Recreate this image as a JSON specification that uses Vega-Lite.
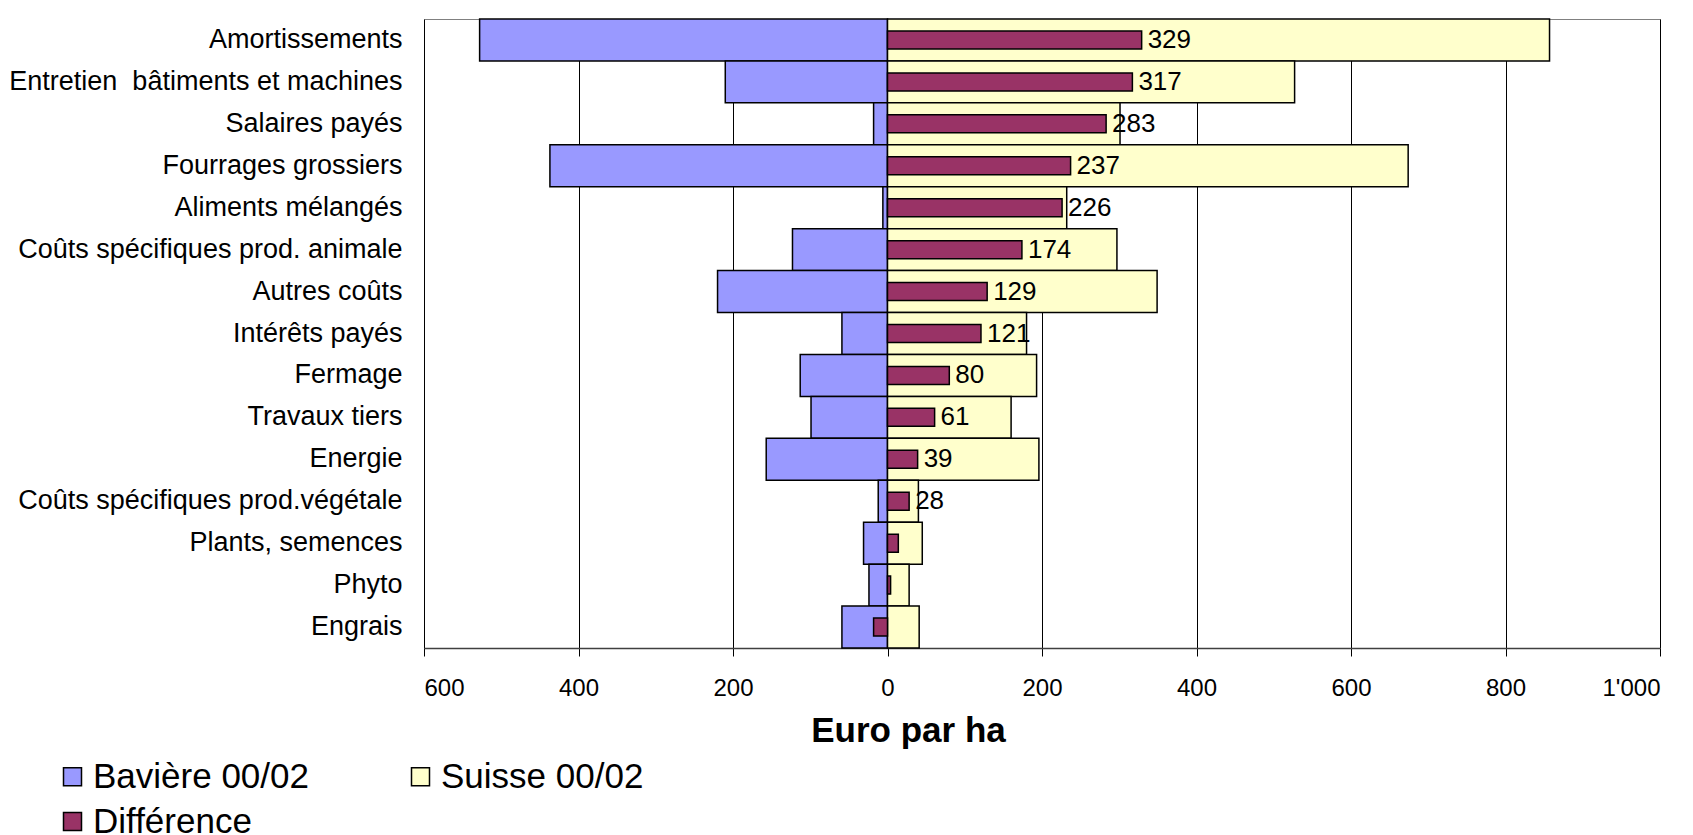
{
  "$schema": "https://vega.github.io/schema/vega-lite/v6.json",
  "autosize": "none",
  "width": 1236,
  "height": 629,
  "padding": {"left": 424, "top": 19, "right": 33, "bottom": 187},
  "background": "white",
  "config": {
    "font": "Liberation Sans",
    "view": {"stroke": "#808080", "strokeWidth": 1}
  },
  "data": {
    "values": [
      {"cat": "Amortissements", "baviere": -528, "suisse": 857, "difference": 329, "label": "329"},
      {"cat": "Entretien\u00a0 bâtiments et machines", "baviere": -210, "suisse": 527, "difference": 317, "label": "317"},
      {"cat": "Salaires payés", "baviere": -18, "suisse": 301, "difference": 283, "label": "283"},
      {"cat": "Fourrages grossiers", "baviere": -437, "suisse": 674, "difference": 237, "label": "237"},
      {"cat": "Aliments mélangés", "baviere": -6, "suisse": 232, "difference": 226, "label": "226"},
      {"cat": "Coûts spécifiques prod. animale", "baviere": -123, "suisse": 297, "difference": 174, "label": "174"},
      {"cat": "Autres coûts", "baviere": -220, "suisse": 349, "difference": 129, "label": "129"},
      {"cat": "Intérêts payés", "baviere": -59, "suisse": 180, "difference": 121, "label": "121"},
      {"cat": "Fermage", "baviere": -113, "suisse": 193, "difference": 80, "label": "80"},
      {"cat": "Travaux tiers", "baviere": -99, "suisse": 160, "difference": 61, "label": "61"},
      {"cat": "Energie", "baviere": -157, "suisse": 196, "difference": 39, "label": "39"},
      {"cat": "Coûts spécifiques prod.végétale", "baviere": -12, "suisse": 40, "difference": 28, "label": "28"},
      {"cat": "Plants, semences", "baviere": -31, "suisse": 45, "difference": 14, "label": null},
      {"cat": "Phyto", "baviere": -24, "suisse": 28, "difference": 4, "label": null},
      {"cat": "Engrais", "baviere": -59, "suisse": 41, "difference": -18, "label": null}
    ]
  },
  "encoding": {
    "y": {
      "field": "cat",
      "type": "nominal",
      "sort": null,
      "scale": {"paddingInner": 0, "paddingOuter": 0},
      "axis": {
        "title": null,
        "ticks": false,
        "domain": false,
        "labelFontSize": 27,
        "labelColor": "black",
        "labelPadding": 22,
        "labelLimit": 500
      }
    }
  },
  "layer": [
    {
      "mark": {"type": "bar", "stroke": "black", "strokeWidth": 1.5},
      "encoding": {
        "x": {
          "field": "baviere",
          "type": "quantitative",
          "scale": {"domain": [-600, 1000], "nice": false},
          "axis": {
            "values": [-600, -400, -200, 0, 200, 400, 600, 800, 1000],
            "labelExpr": "replace(format(abs(datum.value), ','), ',', \"'\")",
            "labelFontSize": 24,
            "labelColor": "black",
            "labelPadding": 20,
            "tickSize": 8,
            "tickColor": "black",
            "domainColor": "#404040",
            "domainWidth": 1.5,
            "grid": true,
            "gridColor": "black",
            "gridWidth": 1,
            "title": "Euro par ha",
            "titleFontSize": 35,
            "titleFontWeight": "bold",
            "titleColor": "black",
            "titleX": 484,
            "titleY": 93,
            "titleAlign": "center",
            "titleBaseline": "alphabetic"
          }
        },
        "color": {
          "datum": "Bavière 00/02",
          "type": "nominal",
          "scale": {
            "domain": ["Bavière 00/02", "Suisse 00/02", "Différence"],
            "range": ["#9999FF", "#FFFFCC", "#993366"]
          },
          "legend": {
            "title": null,
            "orient": "none",
            "direction": "horizontal",
            "legendX": -369,
            "legendY": 740,
            "columns": 2,
            "symbolType": "square",
            "symbolSize": 324,
            "symbolStrokeColor": "black",
            "symbolStrokeWidth": 1.5,
            "symbolOpacity": 1,
            "labelFontSize": 35,
            "labelColor": "black",
            "labelOffset": 3,
            "labelLimit": 400,
            "columnPadding": 94,
            "rowPadding": 9
          }
        }
      }
    },
    {
      "mark": {"type": "bar", "stroke": "black", "strokeWidth": 1.5},
      "encoding": {
        "x": {"field": "suisse", "type": "quantitative"},
        "color": {
          "datum": "Suisse 00/02",
          "type": "nominal",
          "scale": {
            "domain": ["Bavière 00/02", "Suisse 00/02", "Différence"],
            "range": ["#9999FF", "#FFFFCC", "#993366"]
          }
        }
      }
    },
    {
      "mark": {"type": "bar", "stroke": "black", "strokeWidth": 1.5, "size": 18},
      "encoding": {
        "x": {"field": "difference", "type": "quantitative"},
        "color": {
          "datum": "Différence",
          "type": "nominal",
          "scale": {
            "domain": ["Bavière 00/02", "Suisse 00/02", "Différence"],
            "range": ["#9999FF", "#FFFFCC", "#993366"]
          }
        }
      }
    },
    {
      "transform": [{"filter": "isValid(datum.label)"}],
      "mark": {"type": "text", "align": "left", "baseline": "middle", "dx": 6, "fontSize": 26, "color": "black"},
      "encoding": {
        "x": {"field": "difference", "type": "quantitative"},
        "text": {"field": "label", "type": "nominal"}
      }
    }
  ]
}
